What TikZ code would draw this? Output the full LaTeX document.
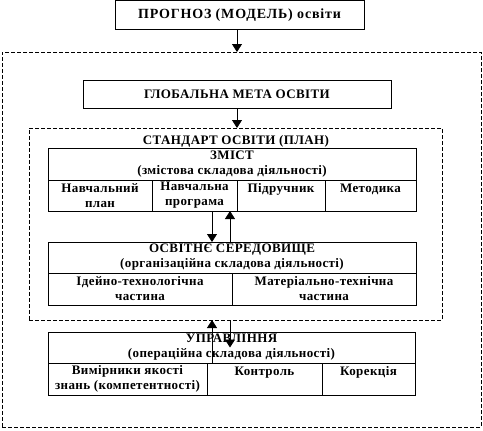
\documentclass[tikz,border=0pt]{standalone}
\usepackage{fontspec}
\setmainfont{Liberation Serif}[LetterSpace=3]
\newfontfamily\progfont{Liberation Serif}[LetterSpace=6]
\usetikzlibrary{arrows.meta, positioning}

\begin{document}
\begin{tikzpicture}[
    x=1pt, y=-1pt,
    every node/.style={font=\bfseries\fontsize{13}{15}\selectfont, align=center, inner sep=2pt, outer sep=0pt},
    box/.style={draw, line width=0.9pt},
    cell/.style={box, anchor=north west, minimum height=31},
    frame/.style={draw, dash pattern=on 4pt off 2pt, line width=0.8pt},
    arrow/.style={line width=0.9pt, -{Triangle[width=10pt,length=8pt]}}
]
\useasboundingbox (0,0) rectangle (483,431);

% Frames
\node (outer) [frame, minimum width=479, minimum height=375] at (241.5,239.5) {};
\node (std) [frame, minimum width=413, minimum height=192] at (235.5,224) {};
\node (stdtitle) at (236,141) {СТАНДАРТ ОСВІТИ (ПЛАН)};

% Nodes
\node (prog) [box, minimum width=249, minimum height=29, font=\progfont\bfseries\fontsize{14}{16}\selectfont] at (239.5,15) {ПРОГНОЗ (МОДЕЛЬ) освіти};
\node (glob) [box, minimum width=308, minimum height=28] at (237,94) {ГЛОБАЛЬНА МЕТА ОСВІТИ};

\node (zmist) [box, minimum width=368, minimum height=32] at (232,164) {ЗМІСТ\\(змістова складова діяльності)};
\node (plan) [cell, minimum width=104] at (zmist.south west) {Навчальний\\план};
\node (progr) [cell, minimum width=85] at (plan.north east) {Навчальна\\програма};
\node (pidr) [cell, minimum width=88] at (progr.north east) {Підручник\\\phantom{план}};
\node (metod) [cell, minimum width=91] at (pidr.north east) {Методика\\\phantom{план}};

\node (env) [box, minimum width=368, minimum height=31] at (232,257.5) {ОСВІТНЄ СЕРЕДОВИЩЕ\\(організаційна складова діяльності)};
\node (ideal) [cell, minimum width=184, minimum height=32] at (env.south west) {Ідейно-технологічна\\частина};
\node (mater) [cell, minimum width=184, minimum height=32] at (ideal.north east) {Матеріально-технічна\\частина};

\node (upr) [box, minimum width=367, minimum height=31] at (231.5,347.5) {УПРАВЛІННЯ\\(операційна складова діяльності)};
\node (vymir) [cell, minimum width=159, minimum height=32] at (upr.south west) {Вимірники якості\\знань (компетентності)};
\node (kontr) [cell, minimum width=115, minimum height=32] at (vymir.north east) {Контроль\\\phantom{план}};
\node (korek) [cell, minimum width=93, minimum height=32] at (kontr.north east) {Корекція\\\phantom{план}};

% Arrows
\coordinate (axis) at (237,0);
\coordinate (dn) at (212,0);
\coordinate (up) at (230,0);
\draw [arrow] (axis |- prog.south) -- (axis |- outer.north);
\draw [arrow] (glob.south) -- (glob.south |- std.north);
\draw [arrow] (dn |- plan.south) -- (dn |- env.north);
\draw [arrow] (up |- env.north) -- (up |- plan.south);
\draw [arrow] (dn |- upr.south) -- (dn |- std.south);
\draw [arrow] (up |- std.south) -- (up |- upr.center);

\end{tikzpicture}
\end{document}
